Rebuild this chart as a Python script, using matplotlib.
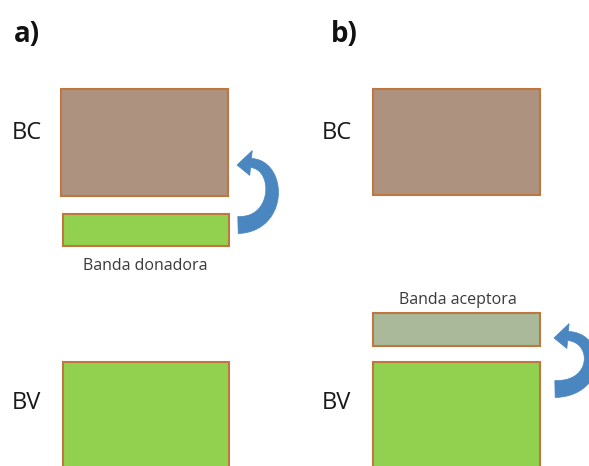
import numpy as np
import matplotlib.pyplot as plt
from matplotlib.patches import Rectangle, Polygon

# panel layout (pixel units of the original picture)
panels = ["a)", "b)"]
panel_x = [14, 331]
band_labels = ["BC", "BV"]
label_y = [133, 403]

# bands: (x0, y0, width, height, fill)
bands_a = [(61, 89, 167, 107, "#AE9280"),
           (63, 214, 166, 32, "#92D050"),
           (63, 362, 166, 110, "#92D050")]
bands_b = [(373, 89, 167, 106, "#AE9280"),
           (373, 313, 167, 33, "#A9B99A"),
           (373, 362, 167, 110, "#92D050")]
impurity_text = ["Banda donadora", "Banda aceptora"]
impurity_pos = [(145, 266), (458, 300)]

# curved arrows: bezier control points of the centre line, then the tip
arrow_ctrl = [[(238, 225), (281, 225), (281, 165), (251, 163), (237, 165)],
              [(555, 389), (600, 389), (600, 338), (568, 336), (554, 338)]]


def curved_arrow(ax, ctrl, w0=17, w1=9, head_w=25):
    p0, p1, p2, p3, tip = [np.array(p, float) for p in ctrl]
    t = np.linspace(0, 1, 60)[:, None]
    c = (1 - t) ** 3 * p0 + 3 * (1 - t) ** 2 * t * p1 + 3 * (1 - t) * t ** 2 * p2 + t ** 3 * p3
    d = np.gradient(c, axis=0)
    d /= np.linalg.norm(d, axis=1)[:, None]
    n = np.column_stack([-d[:, 1], d[:, 0]])
    w = (w0 + (w1 - w0) * t) / 2
    left = c + n * w
    right = c - n * w
    hn = n[-1] * head_w / 2
    pts = np.vstack([left, [p3 + hn, tip, p3 - hn], right[::-1]])
    ax.add_patch(Polygon(pts, closed=True, facecolor="#4A86C0", edgecolor="#4A86C0", lw=0.5))


fig = plt.figure(figsize=(5.89, 4.66), dpi=100)
ax = fig.add_axes([0, 0, 1, 1])
ax.set_xlim(0, 589)
ax.set_ylim(466, 0)
ax.axis("off")

for x0, y0, w, h, c in bands_a + bands_b:
    ax.add_patch(Rectangle((x0, y0), w, h, facecolor=c, edgecolor="#C0773F", lw=1.5))

for t, x in zip(panels, panel_x):
    ax.text(x, 35, t, fontsize=20, fontweight="bold", family="Open Sans",
            ha="left", va="center", color="#111111")

for px in [12, 322]:
    for t, y in zip(band_labels, label_y):
        ax.text(px, y, t, fontsize=17, family="Open Sans", ha="left", va="center",
                color="#1a1a1a")

for t, (x, y) in zip(impurity_text, impurity_pos):
    ax.text(x, y, t, fontsize=11.5, family="Open Sans", ha="center", va="center",
            color="#3a3a3a")

for ctrl in arrow_ctrl:
    curved_arrow(ax, ctrl)

fig.savefig("out.png", dpi=100)
